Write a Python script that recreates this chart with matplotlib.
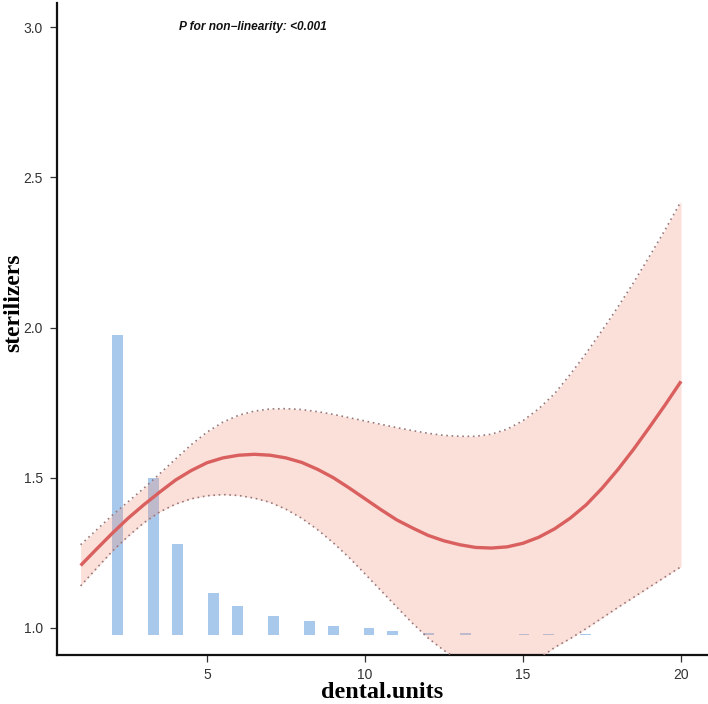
import matplotlib
matplotlib.use("Agg")
import matplotlib.pyplot as plt
import numpy as np

# ---- data ----
x_grid = [1.0, 1.5, 2.0, 2.5, 3.0, 3.5, 4.0, 4.5, 5.0, 5.5, 6.0, 6.5, 7.0, 7.5,
          8.0, 8.5, 9.0, 9.5, 10.0, 10.5, 11.0, 11.5, 12.0, 12.5, 13.0, 13.5,
          14.0, 14.5, 15.0, 15.5, 16.0, 16.5, 17.0, 17.5, 18.0, 18.5, 19.0,
          19.5, 20.0]
fit = [1.208, 1.262, 1.315, 1.365, 1.410, 1.452, 1.492, 1.524, 1.550, 1.566,
       1.575, 1.578, 1.575, 1.566, 1.551, 1.528, 1.500, 1.466, 1.430, 1.394,
       1.360, 1.333, 1.308, 1.290, 1.277, 1.268, 1.266, 1.270, 1.282, 1.302,
       1.330, 1.366, 1.410, 1.465, 1.527, 1.595, 1.668, 1.743, 1.821]
upper = [1.277, 1.326, 1.375, 1.420, 1.465, 1.513, 1.562, 1.610, 1.652, 1.685,
         1.708, 1.722, 1.729, 1.730, 1.727, 1.720, 1.711, 1.700, 1.689, 1.678,
         1.667, 1.657, 1.648, 1.641, 1.638, 1.638, 1.645, 1.662, 1.690, 1.730,
         1.780, 1.845, 1.915, 1.990, 2.068, 2.150, 2.237, 2.326, 2.420]
lower = [1.140, 1.198, 1.255, 1.305, 1.350, 1.386, 1.412, 1.430, 1.440, 1.444,
         1.441, 1.432, 1.418, 1.395, 1.365, 1.327, 1.283, 1.234, 1.180, 1.125,
         1.070, 1.016, 0.966, 0.925, 0.893, 0.872, 0.862, 0.862, 0.872, 0.898,
         0.935, 0.965, 0.998, 1.033, 1.068, 1.102, 1.136, 1.170, 1.204]

bar_x = [2.17, 3.31, 4.07, 5.20, 5.96, 7.10, 8.25, 9.00, 10.13, 10.88,
         12.00, 13.17, 15.03, 15.80, 16.97]
bar_top = [1.974, 1.500, 1.280, 1.118, 1.074, 1.041, 1.023, 1.007, 1.001,
           0.990, 0.983, 0.982, 0.981, 0.981, 0.981]
bar_base = 0.977

x_ticks = [5, 10, 15, 20]
y_ticks = [1.0, 1.5, 2.0, 2.5, 3.0]
y_tick_labels = ["1.0", "1.5", "2.0", "2.5", "3.0"]

# ---- figure ----
fig = plt.figure(figsize=(7.08, 7.04), dpi=100)
ax = fig.add_axes([0.0805, 0.0696, 0.918, 0.926])

heights = [t - bar_base for t in bar_top]
ax.bar(bar_x, heights, bottom=bar_base, width=0.34, color="#a9c9ec",
       edgecolor="none", zorder=1)

ax.fill_between(x_grid, lower, upper, color=(0.96, 0.59, 0.51), alpha=0.3,
                linewidth=0, zorder=2)
ax.plot(x_grid, upper, linestyle=(0, (1, 2.2)), color="#9a7878", lw=1.2, zorder=3)
ax.plot(x_grid, lower, linestyle=(0, (1, 2.2)), color="#9a7878", lw=1.2, zorder=3)
ax.plot(x_grid, fit, color="#d9605f", lw=2.4, zorder=4, solid_capstyle="butt")

ax.set_xlim(0.253, 20.82)
ax.set_ylim(0.910, 3.08)

ax.set_xticks(x_ticks)
ax.set_yticks(y_ticks)
ax.set_yticklabels(y_tick_labels)

for s in ["top", "right"]:
    ax.spines[s].set_visible(False)
for s in ["left", "bottom"]:
    ax.spines[s].set_linewidth(1.6)
    ax.spines[s].set_color("#111111")

ax.tick_params(axis="both", direction="out", length=5, width=0.9,
               color="#333333", labelsize=10, labelcolor="#333333", pad=5)
ax.tick_params(axis="x", pad=4)
for lab in ax.get_xticklabels() + ax.get_yticklabels():
    lab.set_family(["Liberation Sans", "DejaVu Sans"])

ax.set_xlabel("dental.units", family=["Liberation Serif", "DejaVu Serif"],
              fontweight="bold", fontsize=17.5, va="baseline")
ax.set_ylabel("sterilizers", family=["Liberation Serif", "DejaVu Serif"],
              fontweight="bold", fontsize=17)
ax.xaxis.set_label_coords(0.5, -0.066)
ax.yaxis.set_label_coords(-0.051, 0.54)

ax.text(6.46, 3.0, "P for non\u2212linearity: <0.001", ha="center", va="center",
        fontsize=8.6, fontweight="bold", fontstyle="italic",
        family=["Liberation Sans", "DejaVu Sans"], color="#111111")

fig.savefig("out.png", dpi=100)
